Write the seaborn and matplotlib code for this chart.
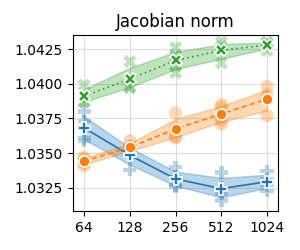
import numpy as np
import pandas as pd
import matplotlib
matplotlib.use("Agg")
import matplotlib.pyplot as plt
import seaborn as sns

# data (4 runs per width)
widths = [64, 128, 256, 512, 1024]
tick_labels = ["64", "128", "256", "512", "1024"]
methods = ["A", "B", "C"]

runs_a = [[1.0380, 1.0373, 1.0361, 1.0359],
          [1.0355, 1.0353, 1.0348, 1.0338],
          [1.0340, 1.0333, 1.0327, 1.0326],
          [1.0336, 1.0325, 1.0321, 1.0316],
          [1.0337, 1.0331, 1.0327, 1.0323]]
runs_b = [[1.0347, 1.0346, 1.0343, 1.0341],
          [1.0359, 1.0355, 1.0352, 1.0351],
          [1.0379, 1.0368, 1.0362, 1.0361],
          [1.0385, 1.0383, 1.0374, 1.0371],
          [1.0398, 1.0392, 1.0389, 1.0377]]
runs_c = [[1.0399, 1.0391, 1.0387, 1.0387],
          [1.0416, 1.0403, 1.0398, 1.0397],
          [1.0426, 1.0420, 1.0413, 1.0408],
          [1.0430, 1.0427, 1.0424, 1.0415],
          [1.0430, 1.0429, 1.0429, 1.0424]]

rows = []
for m, runs in zip(methods, [runs_a, runs_b, runs_c]):
    for w, vals in zip(widths, runs):
        for v in vals:
            rows.append({"width": w, "norm": v, "method": m})
df = pd.DataFrame(rows)

palette = {"A": "#1f77b4", "B": "#ff7f0e", "C": "#2ca02c"}
markers = {"A": "P", "B": "o", "C": "X"}
dashes = {"A": "", "B": (3, 2), "C": (1, 2)}

fig = plt.figure(figsize=(3, 2.5), dpi=100)
ax = fig.add_axes([0.243, 0.156, 0.684, 0.704])

# individual runs
sns.scatterplot(data=df, x="width", y="norm", hue="method", style="method",
                palette=palette, markers=markers, s=90, alpha=0.3,
                linewidth=0, legend=False, ax=ax)
# mean with band
sns.lineplot(data=df, x="width", y="norm", hue="method", style="method",
             palette=palette, markers=markers, dashes=dashes,
             errorbar=("ci", 95), seed=0, err_kws={"alpha": 0.3}, markersize=8,
             markeredgecolor="white", markeredgewidth=1.2,
             linewidth=1.2, legend=False, ax=ax)

ax.set_xscale("log", base=2)
ax.set_xticks(widths)
ax.set_xticklabels(tick_labels)
ax.minorticks_off()
ax.set_xlim(54, 1210)
ax.set_ylim(1.03084, 1.04351)
ax.set_yticks([1.0325, 1.0350, 1.0375, 1.0400, 1.0425])
ax.set_yticklabels(["1.0325", "1.0350", "1.0375", "1.0400", "1.0425"])
ax.grid(True, color="#dddddd", linewidth=0.8)
ax.set_axisbelow(True)
ax.set_xlabel("")
ax.set_ylabel("")
ax.set_title("Jacobian norm", fontsize=12)

fig.savefig("out.png", dpi=100)
